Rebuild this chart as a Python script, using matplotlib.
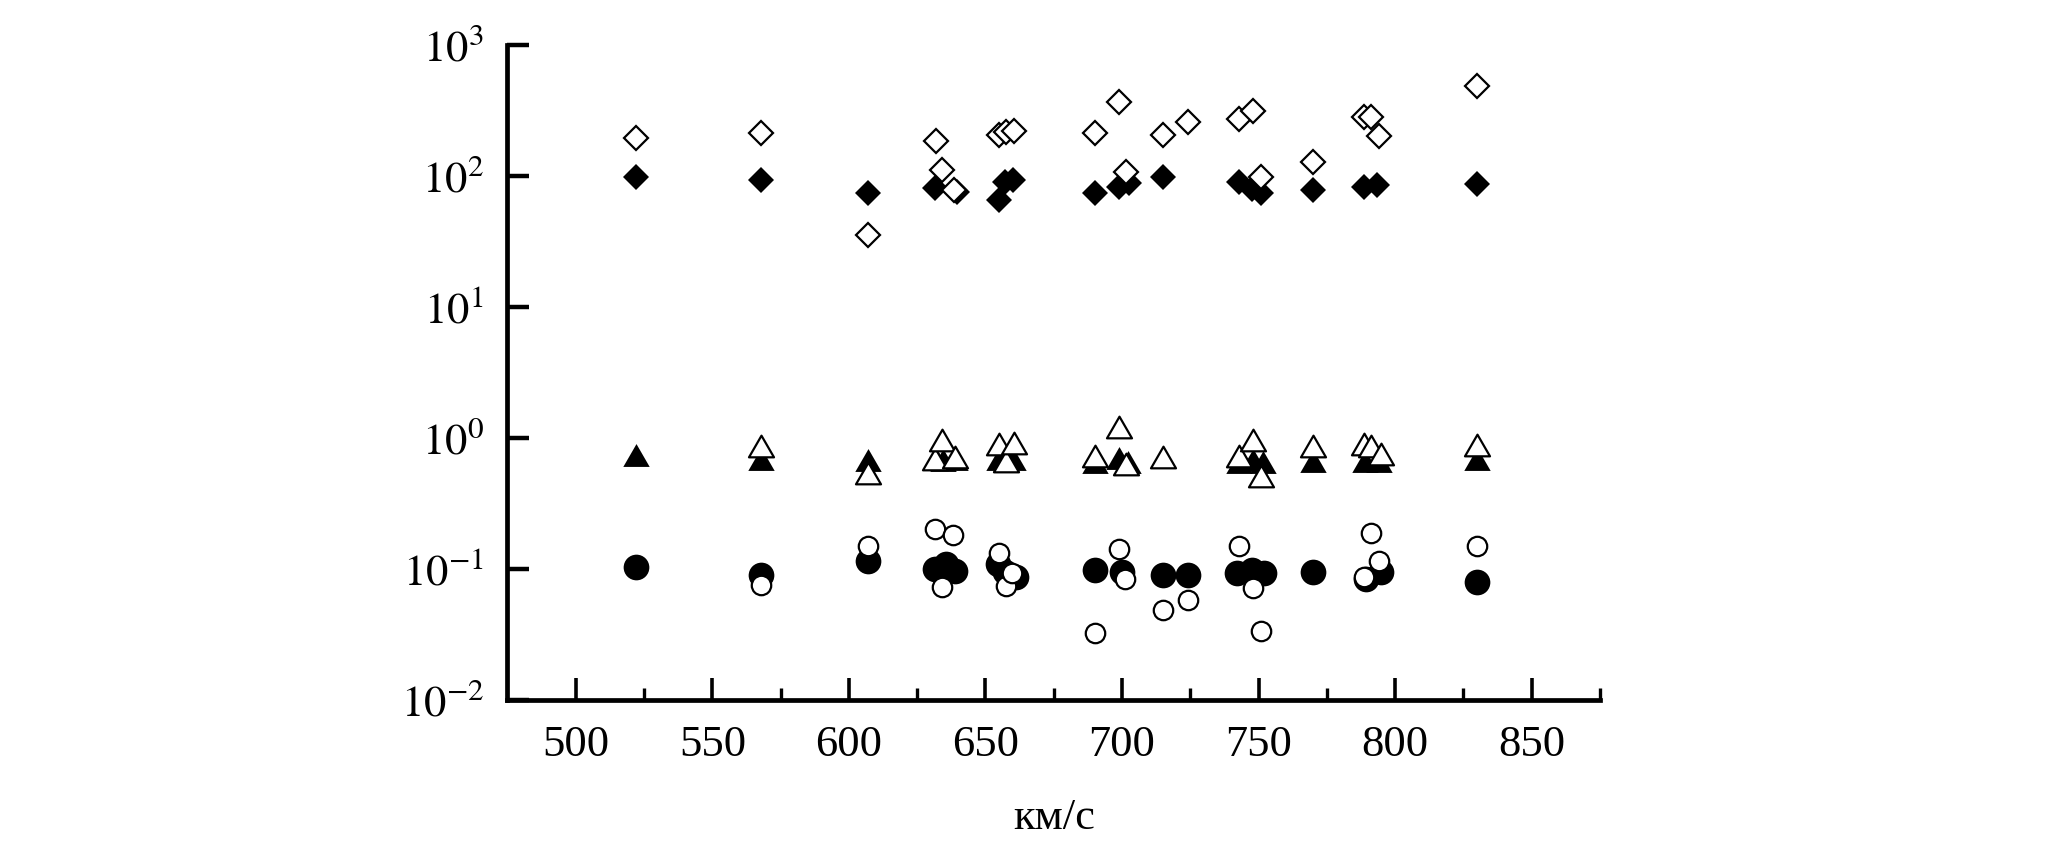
import matplotlib
matplotlib.use("Agg")
import matplotlib.pyplot as plt
from matplotlib.path import Path
from matplotlib.ticker import NullLocator

plt.rcParams['font.family'] = ['Liberation Serif', 'DejaVu Serif']
plt.rcParams['mathtext.fontset'] = 'stix'

# speed (km/s) and value for each of the six series
fd_x = [522, 568, 607, 631.5, 639.4, 655, 657.3, 660, 690, 699, 702.5, 715,
        742.8, 747.7, 750.8, 770, 788.6, 793.5, 830]
fd_y = [99, 93.5, 74.5, 80.5, 75.5, 66, 90.6, 93, 74.5, 82, 88, 98.6,
        90.6, 79.6, 74.5, 78, 82, 85, 86.5]

od_x = [522, 568, 607, 632, 634, 638.5, 655, 657.4, 660.4, 690, 699, 701.3,
        715, 724, 742.8, 748, 750.8, 770, 788.6, 791, 794, 830]
od_y = [196, 211, 35.3, 185, 111, 78, 206, 218, 222, 213, 366, 108,
        204, 259, 273, 311, 98, 128, 282, 282, 201, 485]

ft_x = [522, 568, 607, 632, 634.5, 639, 655, 657.5, 660, 690, 699, 702,
        742.8, 748, 751.5, 770, 789, 794, 830]
ft_y = [0.736, 0.69, 0.68, 0.69, 0.68, 0.69, 0.69, 0.68, 0.69, 0.65, 0.70, 0.66,
        0.66, 0.68, 0.66, 0.67, 0.67, 0.67, 0.69]

ot_x = [568, 607, 631.7, 634.2, 638.7, 655, 657.4, 660.4, 690, 699, 701.3, 715,
        742.8, 748, 751, 770, 788.6, 791, 794.7, 830]
ot_y = [0.865, 0.54, 0.69, 0.96, 0.71, 0.90, 0.67, 0.91, 0.73, 1.21, 0.63, 0.72,
        0.73, 0.97, 0.51, 0.875, 0.90, 0.87, 0.76, 0.887]

fc_x = [522, 568, 607, 631.5, 635.4, 639, 654.5, 657, 661, 690, 700, 715,
        724, 742.2, 747.7, 752, 770, 789.2, 794.7, 830]
fc_y = [0.103, 0.0895, 0.116, 0.1007, 0.109, 0.096, 0.109, 0.095, 0.087, 0.0986, 0.0955, 0.0895,
        0.0895, 0.0925, 0.0986, 0.0925, 0.0955, 0.084, 0.0955, 0.0797]

oc_x = [568, 607, 631.7, 634.2, 638.2, 655, 657.4, 659.8, 690, 699, 701, 715,
        724, 742.8, 748, 751, 788.6, 791, 794, 830]
oc_y = [0.076, 0.151, 0.202, 0.0728, 0.183, 0.132, 0.0738, 0.0925, 0.0327, 0.141, 0.084, 0.049,
        0.0575, 0.149, 0.0713, 0.0338, 0.0867, 0.189, 0.116, 0.151]

xticks = [500, 550, 600, 650, 700, 750, 800, 850]
xminor = [525, 575, 625, 675, 725, 775, 825, 875]
yticks = [1e-2, 1e-1, 1e0, 1e1, 1e2, 1e3]
ytick_labels = ['$10^{-2}$', '$10^{-1}$', '$10^{0}$', '$10^{1}$', '$10^{2}$', '$10^{3}$']
xlabel = 'км/с'

# equilateral triangle
tri = Path([(-1, -0.866), (1, -0.866), (0, 0.866), (-1, -0.866)],
           [Path.MOVETO, Path.LINETO, Path.LINETO, Path.CLOSEPOLY])

fig = plt.figure(figsize=(20.67, 8.5), dpi=100)
ax = fig.add_axes([0.2455, 0.1765, 0.5286, 0.7706])

ax.set_yscale('log')

filled = dict(linestyle='none', color='black', mec='black', mew=0)
hollow = dict(linestyle='none', mfc='white', mec='black', mew=1.6)

ax.plot(fd_x, fd_y, marker='D', ms=13.5, **filled)
ax.plot(ft_x, ft_y, marker=tri, ms=19, **filled)
ax.plot(fc_x, fc_y, marker='o', ms=18.5, **filled)
ax.plot(od_x, od_y, marker='D', ms=12.5, **hollow)
ax.plot(ot_x, ot_y, marker=tri, ms=18, **hollow)
ax.plot(oc_x, oc_y, marker='o', ms=14, **hollow)

ax.set_xlim(475, 875)
ax.set_ylim(1e-2, 1e3)

for s in ['top', 'right']:
    ax.spines[s].set_visible(False)
for s in ['left', 'bottom']:
    ax.spines[s].set_linewidth(3.4)
    ax.spines[s].set_capstyle('projecting')

ax.set_xticks(xticks)
ax.set_xticklabels([str(v) for v in xticks])
ax.set_xticks(xminor, minor=True)
ax.set_yticks(yticks)
ax.set_yticklabels(ytick_labels)
ax.yaxis.set_minor_locator(NullLocator())

ax.tick_params(axis='x', which='major', direction='in', length=15.5, width=2.6,
               labelsize=32, pad=18)
ax.tick_params(axis='x', which='minor', direction='in', length=9, width=2.4)
ax.tick_params(axis='y', which='major', direction='in', length=16, width=3.2,
               labelsize=32, pad=17)

ax.set_xlabel(xlabel, fontsize=32, labelpad=24)

fig.savefig('out.png', dpi=100, facecolor='white')
